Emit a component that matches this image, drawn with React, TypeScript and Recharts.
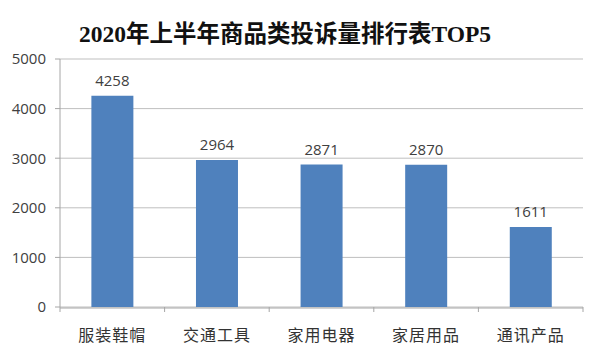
import React from "react";
import { BarChart, Bar, XAxis, YAxis, CartesianGrid, LabelList } from "recharts";

const categories = ["服装鞋帽", "交通工具", "家用电器", "家居用品", "通讯产品"];
const complaints = [4258, 2964, 2871, 2870, 1611];
const yTicks = [0, 1000, 2000, 3000, 4000, 5000];
const title = "2020年上半年商品类投诉量排行表TOP5";

const data = categories.map((name, i) => ({ name, value: complaints[i], pos: i + 0.5 }));
const boundaries = categories.map((_, i) => i).concat([categories.length]);

const sans = "'Open Sans', 'Liberation Sans', 'Noto Sans CJK SC', sans-serif";
const cjk = "'Noto Sans CJK SC', sans-serif";

const EmptyTick = () => <g />;

export default function App() {
  return (
    <div style={{ position: "absolute", left: 0, top: 0, width: 591, height: 356, background: "#fff" }}>
      <div
        style={{
          position: "absolute",
          left: 0,
          top: 20,
          width: 570,
          textAlign: "center",
          fontFamily: "'Liberation Serif', 'Noto Sans CJK SC', serif",
          fontWeight: 700,
          fontSize: 23.5,
          color: "#111",
          lineHeight: "28px",
        }}
      >
        {title}
      </div>
      <BarChart
        width={591}
        height={356}
        data={data}
        margin={{ top: 59, right: 8, bottom: 0, left: 0 }}
        barCategoryGap="30%"
      >
        <CartesianGrid vertical={false} stroke="#bfbfbf" />
        <XAxis
          xAxisId="bnd"
          type="number"
          dataKey="pos"
          domain={[0, categories.length]}
          ticks={boundaries}
          tick={EmptyTick}
          axisLine={false}
          tickLine={{ stroke: "#a6a6a6" }}
          tickSize={5}
          height={1}
          interval={0}
        />
        <XAxis
          dataKey="name"
          xAxisId="cat"
          tickLine={false}
          axisLine={{ stroke: "#a6a6a6" }}
          tick={{ fill: "#333", fontSize: 16, fontFamily: cjk, letterSpacing: 1 }}
          tickMargin={16}
          height={48}
        />
        <YAxis
          width={60}
          domain={[0, 5000]}
          ticks={yTicks}
          axisLine={{ stroke: "#a6a6a6" }}
          tickLine={{ stroke: "#a6a6a6" }}
          tickSize={5}
          tickMargin={9}
          tick={{ fill: "#404040", fontSize: 15, fontFamily: sans }}
        />
        <Bar dataKey="value" xAxisId="cat" fill="#4f81bd" isAnimationActive={false}>
          <LabelList
            dataKey="value"
            position="top"
            offset={10}
            style={{ fill: "#404040", fontSize: 15, fontFamily: sans }}
          />
        </Bar>
      </BarChart>
    </div>
  );
}
